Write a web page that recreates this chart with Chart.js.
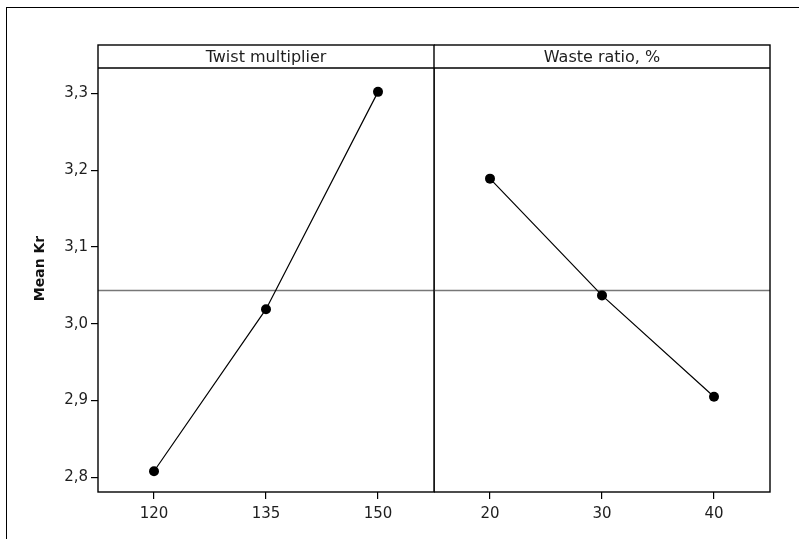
<!DOCTYPE html>
<html>
<head>
<meta charset="utf-8">
<title>Main effects for Mean Kr</title>
<script src="https://cdn.jsdelivr.net/npm/chart.js@4.4.0/dist/chart.umd.min.js"></script>
<style>
  body { margin: 0; background: #fff; }
  #wrap { position: relative; width: 799px; height: 539px; overflow: hidden; }
  #frame { position: absolute; left: 6px; top: 7px; width: 820px; height: 560px;
           border-left: 1px solid #000; border-top: 1px solid #000; }
  #cTwist { position: absolute; left: 0; top: 0; }
  #cWaste { position: absolute; left: 434px; top: 0; }
</style>
</head>
<body>
<div id="wrap">
  <div id="frame"></div>
  <canvas id="cTwist" width="435" height="539"></canvas>
  <canvas id="cWaste" width="365" height="539"></canvas>
</div>
<script>
// niveis e medias de Kr por fator
const twistLevels = [120, 135, 150];
const twistMeans = [2.808, 3.019, 3.302];
const wasteLevels = [20, 30, 40];
const wasteMeans = [3.189, 3.037, 2.905];
const grandMean = 3.044;
const yTicks = [2.8, 2.9, 3.0, 3.1, 3.2, 3.3];

// o eixo y vai ate ao topo da faixa do titulo do painel
const yMin = 2.781;
const yMax = 3.363;
const headerH = 23;

Chart.defaults.font.family = '"DejaVu Sans", sans-serif';
Chart.defaults.color = '#1e1e1e';

// linha da media geral, moldura do painel e faixa com o nome do fator
const panelPlugin = {
    id: 'panel',
    beforeDatasetsDraw(chart) {
        const {ctx, chartArea: a, scales: {y}} = chart;
        const py = Math.round(y.getPixelForValue(grandMean)) + 0.5;
        ctx.save();
        ctx.strokeStyle = '#777';
        ctx.lineWidth = 1.3;
        ctx.beginPath();
        ctx.moveTo(a.left, py);
        ctx.lineTo(a.right, py);
        ctx.stroke();
        ctx.restore();
    },
    afterDraw(chart, args, opts) {
        const {ctx, chartArea: a} = chart;
        const hb = a.top + headerH;
        ctx.save();
        ctx.fillStyle = '#fff';
        ctx.fillRect(a.left, a.top, a.right - a.left, headerH);
        ctx.strokeStyle = '#000';
        ctx.lineWidth = 1.4;
        ctx.strokeRect(a.left, a.top, a.right - a.left, a.bottom - a.top);
        ctx.beginPath();
        ctx.moveTo(a.left, hb);
        ctx.lineTo(a.right, hb);
        ctx.stroke();
        ctx.fillStyle = '#1e1e1e';
        ctx.font = '16px "DejaVu Sans"';
        ctx.textAlign = 'center';
        ctx.textBaseline = 'middle';
        ctx.fillText(opts.title, (a.left + a.right) / 2, (a.top + hb) / 2 + 1);
        ctx.restore();
    }
};

function xScale(levels) {
    const step = levels[1] - levels[0];
    return {
        type: 'linear',
        min: levels[0] - step / 2,
        max: levels[levels.length - 1] + step / 2,
        afterBuildTicks: s => { s.ticks = levels.map(v => ({value: v})); },
        afterFit: s => { s.height = 47; },
        grid: { display: true, drawOnChartArea: false, drawTicks: true, tickLength: 7, color: '#000', lineWidth: 1.2 },
        border: { display: false },
        ticks: { font: { size: 15 }, padding: 6, maxRotation: 0, callback: v => String(v) }
    };
}

function yScale(show) {
    return {
        type: 'linear',
        display: show,
        min: yMin,
        max: yMax,
        afterBuildTicks: s => { s.ticks = yTicks.map(v => ({value: v})); },
        afterFit: s => { if (show) s.width = 98; },
        grid: { display: true, drawOnChartArea: false, drawTicks: true, tickLength: 7, color: '#000', lineWidth: 1.2 },
        border: { display: false },
        ticks: { font: { size: 15 }, padding: 3, callback: v => v.toFixed(1).replace('.', ',') },
        title: { display: true, text: 'Mean Kr', font: { size: 14, weight: 'bold' }, color: '#111', padding: { top: 32 } }
    };
}

function criarPainel(id, levels, means, title, pad) {
    return new Chart(document.getElementById(id), {
        type: 'line',
        data: {
            datasets: [{
                data: levels.map((x, i) => ({x: x, y: means[i]})),
                borderColor: '#000',
                borderWidth: 1.2,
                backgroundColor: '#000',
                pointRadius: 5,
                pointBorderWidth: 0,
                tension: 0
            }]
        },
        options: {
            responsive: false,
            animation: false,
            devicePixelRatio: 1,
            layout: { padding: pad, autoPadding: false },
            scales: {
                x: xScale(levels),
                y: yScale(id === 'cTwist')
            },
            plugins: {
                legend: { display: false },
                tooltip: { enabled: false },
                panel: { title: title }
            }
        },
        plugins: [panelPlugin]
    });
}

criarPainel('cTwist', twistLevels, twistMeans, 'Twist multiplier', { top: 45, left: 0, right: 1, bottom: 0 });
criarPainel('cWaste', wasteLevels, wasteMeans, 'Waste ratio, %', { top: 45, left: 0, right: 29, bottom: 0 });
</script>
</body>
</html>
